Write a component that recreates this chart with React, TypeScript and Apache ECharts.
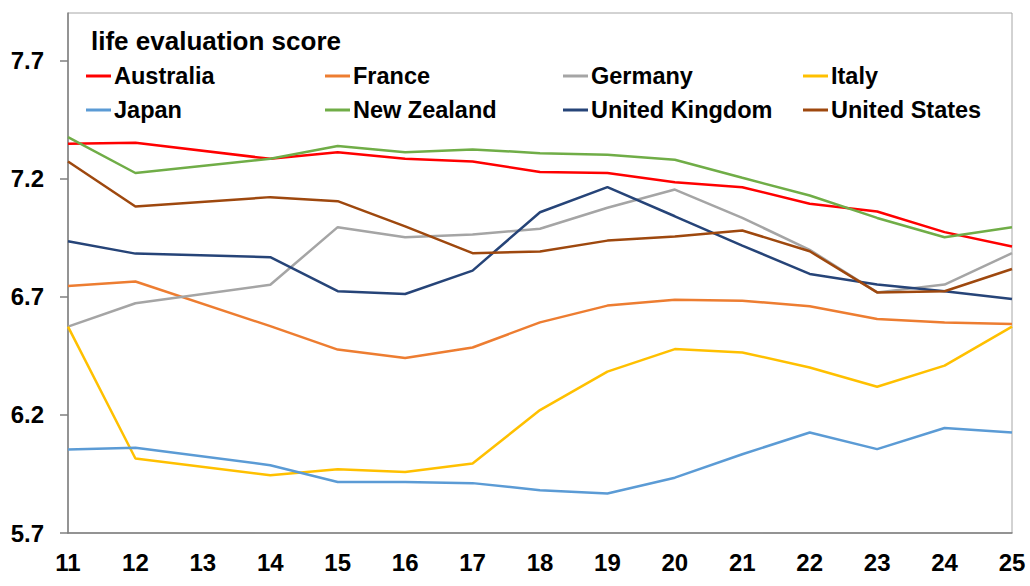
import React, { useEffect, useRef } from "react";
import * as echarts from "echarts";

const years = ["11", "12", "13", "14", "15", "16", "17", "18", "19", "20", "21", "22", "23", "24", "25"];
const yTicks = [5.7, 6.2, 6.7, 7.2, 7.7];

const australia = [7.347, 7.351, null, 7.283, 7.311, 7.283, 7.272, 7.227, 7.223, 7.184, 7.163, 7.093, 7.06, 6.973, 6.912];
const france = [6.745, 6.764, null, 6.575, 6.476, 6.44, 6.485, 6.591, 6.662, 6.687, 6.683, 6.659, 6.605, 6.591, 6.584];
const germany = [6.573, 6.672, null, 6.75, 6.994, 6.951, 6.963, 6.987, 7.076, 7.153, 7.033, 6.898, 6.718, 6.751, 6.884];
const italy = [6.573, 6.015, null, 5.944, 5.97, 5.958, 5.994, 6.22, 6.383, 6.478, 6.464, 6.4, 6.319, 6.408, 6.573];
const japan = [6.053, 6.061, null, 5.987, 5.916, 5.916, 5.911, 5.881, 5.867, 5.934, 6.033, 6.125, 6.055, 6.144, 6.125];
const newZealand = [7.375, 7.223, null, 7.283, 7.337, 7.311, 7.323, 7.307, 7.3, 7.279, 7.203, 7.128, 7.033, 6.951, 6.994];
const unitedKingdom = [6.934, 6.882, null, 6.867, 6.723, 6.711, 6.81, 7.057, 7.163, 7.04, 6.916, 6.796, 6.751, 6.723, 6.69];
const unitedStates = [7.272, 7.081, null, 7.121, 7.104, 6.997, 6.884, 6.891, 6.937, 6.954, 6.98, 6.892, 6.718, 6.723, 6.817];

const seriesDefs = [
  { name: "Australia", data: australia, color: "#FF0000" },
  { name: "France", data: france, color: "#ED7D31" },
  { name: "Germany", data: germany, color: "#A5A5A5" },
  { name: "Italy", data: italy, color: "#FFC000" },
  { name: "Japan", data: japan, color: "#5B9BD5" },
  { name: "New Zealand", data: newZealand, color: "#70AD47" },
  { name: "United Kingdom", data: unitedKingdom, color: "#264478" },
  { name: "United States", data: unitedStates, color: "#9E480E" },
];

const legendColumns = [
  { left: 86, names: ["Australia", "Japan"] },
  { left: 325, names: ["France", "New Zealand"] },
  { left: 563, names: ["Germany", "United Kingdom"] },
  { left: 803, names: ["Italy", "United States"] },
];

const FONT = '"Liberation Sans", Arial, sans-serif';

export default function App() {
  const ref = useRef<HTMLDivElement>(null);
  useEffect(() => {
    if (!ref.current) return;
    const chart = echarts.init(ref.current, null, { renderer: "svg" });
    chart.setOption({
      animation: false,
      backgroundColor: "#ffffff",
      title: {
        text: "life evaluation score",
        left: 91,
        top: 28,
        padding: 0,
        textStyle: { fontFamily: FONT, fontWeight: "bold", fontSize: 26, color: "#000" },
      },
      legend: legendColumns.map((c) => ({
        orient: "vertical",
        left: c.left,
        top: 64,
        padding: 0,
        itemGap: 10,
        itemWidth: 25,
        itemHeight: 3,
        icon: "rect",
        selectedMode: false,
        data: c.names,
        textStyle: { fontFamily: FONT, fontWeight: "bold", fontSize: 23.5, color: "#000", lineHeight: 24, padding: [0, 0, 0, -2] },
      })),
      grid: {
        left: 68,
        top: 13,
        right: 18,
        bottom: 53,
        show: true,
        borderColor: "#a6a6a6",
        borderWidth: 1,
      },
      xAxis: {
        type: "category",
        data: years,
        boundaryGap: false,
        axisLine: { lineStyle: { color: "#7f7f7f", width: 1.5 } },
        axisTick: { show: false },
        axisLabel: { fontFamily: FONT, fontWeight: "bold", fontSize: 24, color: "#000", margin: 17, interval: 0 },
        splitLine: { show: false },
      },
      yAxis: {
        type: "value",
        min: 5.7,
        max: 7.9,
        axisLine: { show: true, lineStyle: { color: "#7f7f7f", width: 1.5 } },
        axisTick: { show: true, length: 8, customValues: yTicks, lineStyle: { color: "#7f7f7f", width: 1.5 } },
        axisLabel: {
          customValues: yTicks,
          fontFamily: FONT,
          fontWeight: "bold",
          fontSize: 24,
          color: "#000",
          margin: 24,
          formatter: (v: number) => v.toFixed(1),
        },
        splitLine: { show: false },
      },
      series: seriesDefs.map((s) => ({
        name: s.name,
        type: "line",
        data: s.data,
        connectNulls: true,
        symbol: "none",
        showSymbol: false,
        lineStyle: { color: s.color, width: 2.5 },
        itemStyle: { color: s.color },
        emphasis: { disabled: true },
      })),
    });
    return () => chart.dispose();
  }, []);
  return (
    <div
      ref={ref}
      style={{ position: "absolute", left: 0, top: 0, width: 1030, height: 586, background: "#fff" }}
    />
  );
}
